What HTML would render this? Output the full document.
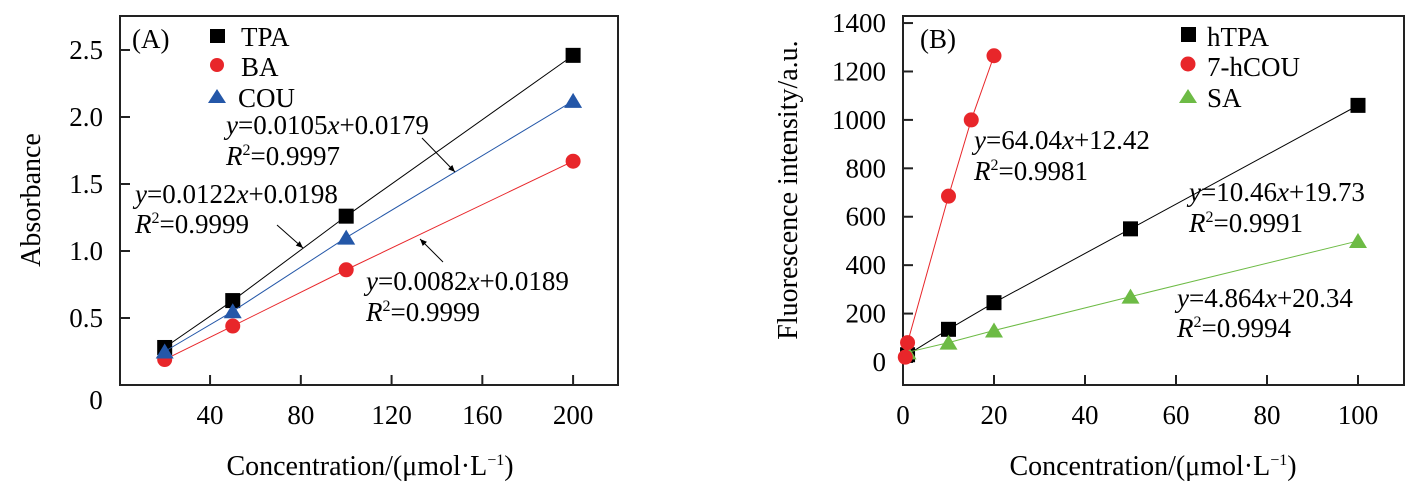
<!DOCTYPE html>
<html><head><meta charset="utf-8"><style>
body{margin:0;background:#fff}
svg{display:block;font-family:"Liberation Serif",serif}
</style></head><body>
<svg id="s" width="1420" height="494" viewBox="0 0 1420 494">
<defs><marker id="ar" markerWidth="8" markerHeight="8" refX="7" refY="4" orient="auto"><path d="M0,1 L7,4 L0,7 Z" fill="#000"/></marker></defs>
<g>
<rect x="120" y="16" width="498" height="369" fill="none" stroke="#222" stroke-width="2"/>
<g id="axA"></g><g id="serA"></g>
<text x="132" y="48" font-size="27">(A)</text>
<text x="40" y="200" font-size="28" text-anchor="middle" transform="rotate(-90 40 200)">Absorbance</text>
<text x="370" y="475" font-size="28" text-anchor="middle">Concentration/(μmol·L<tspan font-size="16" dy="-10">−1</tspan><tspan dy="10">)</tspan></text>
<g font-size="27">
<text x="226" y="134"><tspan font-style="italic">y</tspan>=0.0105<tspan font-style="italic">x</tspan>+0.0179</text>
<text x="226" y="165"><tspan font-style="italic">R</tspan><tspan font-size="16" dy="-10">2</tspan><tspan dy="10">=0.9997</tspan></text>
<text x="135" y="203"><tspan font-style="italic">y</tspan>=0.0122<tspan font-style="italic">x</tspan>+0.0198</text>
<text x="135" y="233"><tspan font-style="italic">R</tspan><tspan font-size="16" dy="-10">2</tspan><tspan dy="10">=0.9999</tspan></text>
<text x="366" y="290"><tspan font-style="italic">y</tspan>=0.0082<tspan font-style="italic">x</tspan>+0.0189</text>
<text x="366" y="321"><tspan font-style="italic">R</tspan><tspan font-size="16" dy="-10">2</tspan><tspan dy="10">=0.9999</tspan></text>
<line x1="422" y1="138" x2="455" y2="172" stroke="#000" marker-end="url(#ar)"/>
<line x1="277" y1="225" x2="303" y2="248" stroke="#000" marker-end="url(#ar)"/>
<line x1="443" y1="262" x2="420" y2="239" stroke="#000" marker-end="url(#ar)"/>
</g>
<g font-size="27">
<rect x="210" y="29" width="15" height="14" fill="#000"/><text x="241" y="46">TPA</text>
<circle cx="217" cy="65" r="7" fill="#e8262a"/><text x="241" y="76">BA</text>
<path d="M208,103 L217,89 L226,103 Z" fill="#2457a8"/><text x="238" y="107">COU</text>
</g>
</g>
<g>
<rect x="903" y="16" width="501" height="369" fill="none" stroke="#222" stroke-width="2"/>
<g id="axB"></g><g id="serB"></g>
<text x="920" y="48" font-size="27">(B)</text>
<text x="797" y="190" font-size="28" text-anchor="middle" transform="rotate(-90 797 190)">Fluorescence intensity/a.u.</text>
<text x="1153" y="475" font-size="28" text-anchor="middle">Concentration/(μmol·L<tspan font-size="16" dy="-10">−1</tspan><tspan dy="10">)</tspan></text>
<g font-size="27">
<text x="974" y="149"><tspan font-style="italic">y</tspan>=64.04<tspan font-style="italic">x</tspan>+12.42</text>
<text x="974" y="180"><tspan font-style="italic">R</tspan><tspan font-size="16" dy="-10">2</tspan><tspan dy="10">=0.9981</tspan></text>
<text x="1189" y="201"><tspan font-style="italic">y</tspan>=10.46<tspan font-style="italic">x</tspan>+19.73</text>
<text x="1189" y="232"><tspan font-style="italic">R</tspan><tspan font-size="16" dy="-10">2</tspan><tspan dy="10">=0.9991</tspan></text>
<text x="1177" y="307"><tspan font-style="italic">y</tspan>=4.864<tspan font-style="italic">x</tspan>+20.34</text>
<text x="1177" y="337"><tspan font-style="italic">R</tspan><tspan font-size="16" dy="-10">2</tspan><tspan dy="10">=0.9994</tspan></text>
</g>
<g font-size="27">
<rect x="1181" y="27" width="15" height="15" fill="#000"/><text x="1207" y="46">hTPA</text>
<circle cx="1188" cy="64" r="7.5" fill="#e8262a"/><text x="1207" y="76">7-hCOU</text>
<path d="M1179,103 L1188,89 L1197,103 Z" fill="#6dbb45"/><text x="1207" y="107">SA</text>
</g>
</g>
</svg>
<script>
const NS="http://www.w3.org/2000/svg";
// Panel A data
const aX=[20,50,100,200];
const aTPA=[0.28,0.63,1.26,2.46];
const aBA=[0.19,0.44,0.86,1.67];
const aCOU=[0.25,0.55,1.10,2.12];
const aXTicks=[40,80,120,160,200];
const aYTicks=[0.5,1.0,1.5,2.0,2.5];
// Panel B data
const bX_hTPA=[1,10,20,50,100];
const bY_hTPA=[30,135,245,550,1060];
const bX_hCOU=[0.5,1,10,15,20];
const bY_hCOU=[20,80,685,1000,1265];
const bX_SA=[1,10,20,50,100];
const bY_SA=[40,80,130,270,500];
const bXTicks=[0,20,40,60,80,100];
const bYTicks=[0,200,400,600,800,1000,1200,1400];

function el(t,a,p){const e=document.createElementNS(NS,t);for(const k in a)e.setAttribute(k,a[k]);p.appendChild(e);return e;}
const xA=v=>119.3+v*2.269, yA=v=>385-v*134;
const xB=v=>903+v*4.55, yB=v=>362-v*0.2421;

function axes(g,xs,ys,xf,yf,yFmt,bottom,left,xName,yName){
  xs.forEach(t=>{const x=xf(t);
    const l=el('line',{x1:x,x2:x,y1:bottom,y2:bottom-10,stroke:'#222','stroke-width':2},g);
    
    
    const s=el('text',{x:x,y:bottom+39,'font-size':27,'text-anchor':'middle'},g);s.textContent=t;
    
    });
  ys.forEach(t=>{const y=yf(t);
    const l=el('line',{x1:left,x2:left+10,y1:y,y2:y,stroke:'#222','stroke-width':2},g);
    
    
    const s=el('text',{x:left-17,y:y+9,'font-size':27,'text-anchor':'end'},g);s.textContent=yFmt(t);
    
    });
}
const gA=document.getElementById('axA'),gB=document.getElementById('axB');
axes(gA,aXTicks,aYTicks,xA,yA,v=>v.toFixed(1),385,120,'x-axis-a','y-axis-a');
const z=el('text',{x:96,y:409,'font-size':27,'text-anchor':'middle'},gA);z.textContent='0';


axes(gB,bXTicks,bYTicks,xB,yB,v=>v,385,903,'x-axis-b','y-axis-b');

function series(g,xs,ys,xf,yf,color,shape,name){
  const pts=xs.map((x,i)=>xf(x)+','+yf(ys[i])).join(' ');
  const pl=el('polyline',{points:pts,fill:'none',stroke:color,'stroke-width':1},g);
  
  
  xs.forEach((x,i)=>{const px=xf(x),py=yf(ys[i]);let m;
    if(shape==='s')m=el('rect',{x:px-7.5,y:py-7.5,width:15,height:15,fill:color},g);
    else if(shape==='c')m=el('circle',{cx:px,cy:py,r:7.5,fill:color},g);
    else m=el('path',{d:`M${px-9},${py+7} L${px},${py-8} L${px+9},${py+7} Z`,fill:color},g);
    
    });
}
const sA=document.getElementById('serA'),sB=document.getElementById('serB');
series(sA,aX,aTPA,xA,yA,'#000','s','tpa');
series(sA,aX,aBA,xA,yA,'#e8262a','c','ba');
series(sA,aX,aCOU,xA,yA,'#2457a8','t','cou');
series(sB,bX_hTPA,bY_hTPA,xB,yB,'#000','s','htpa');
series(sB,bX_SA,bY_SA,xB,yB,'#6dbb45','t','sa');
series(sB,bX_hCOU,bY_hCOU,xB,yB,'#e8262a','c','7hcou');
</script>
</body></html>
